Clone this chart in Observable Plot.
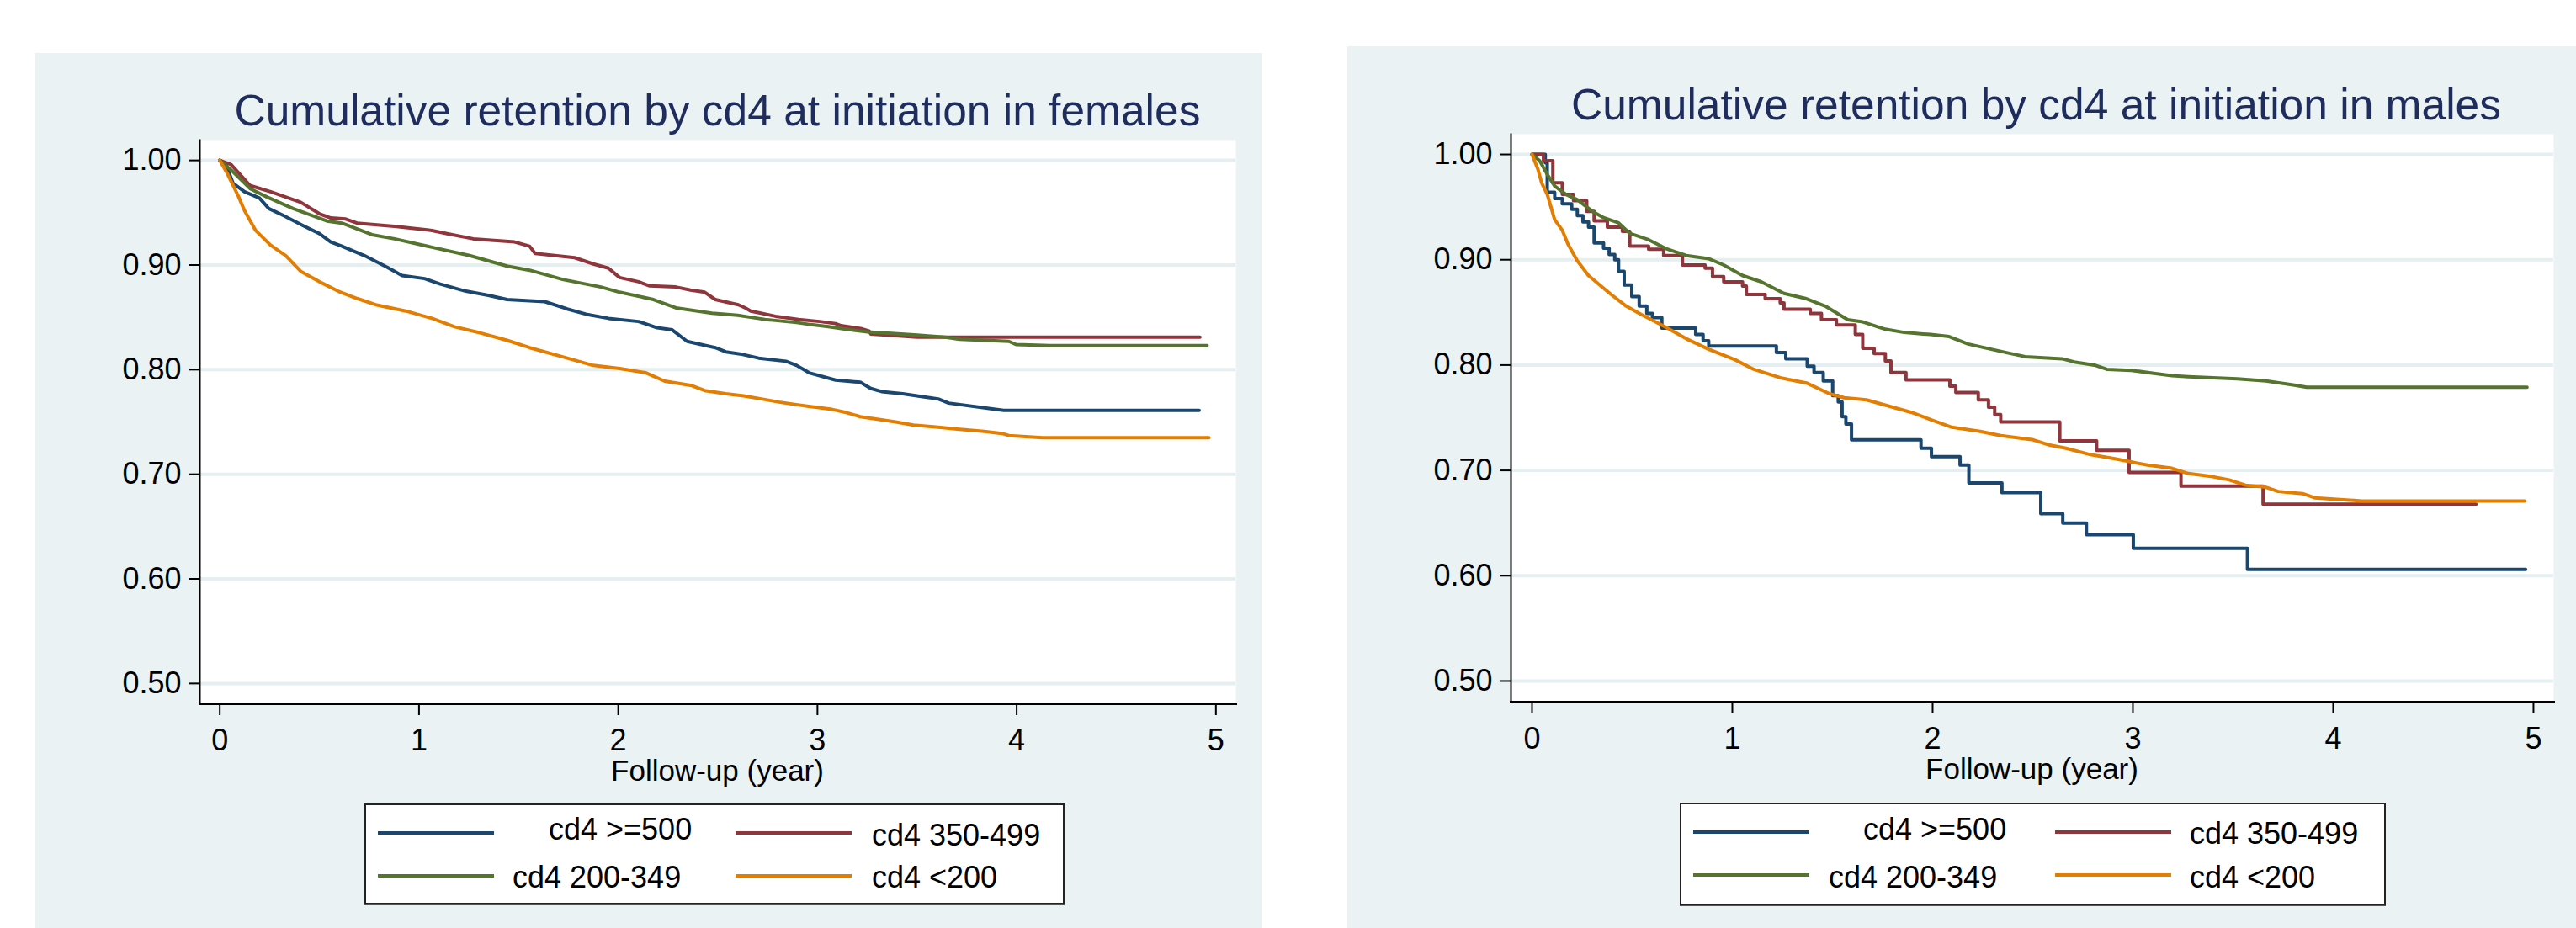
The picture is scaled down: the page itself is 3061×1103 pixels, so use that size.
<!DOCTYPE html>
<html><head><meta charset="utf-8">
<script src="https://cdn.jsdelivr.net/npm/d3@7"></script>
<script src="https://cdn.jsdelivr.net/npm/@observablehq/plot@0.6"></script>
<style>
body{margin:0;background:#fff;}
#root{position:relative;width:3061px;height:1103px;overflow:hidden;font-family:"Liberation Sans",Arial,sans-serif;}
.abs{position:absolute;white-space:nowrap;line-height:1;}
</style></head><body><div id="root"></div>
<script>
// ---------- data ----------
const groups = ["cd4 >=500", "cd4 350-499", "cd4 200-349", "cd4 <200"];
const xTicks = [0, 1, 2, 3, 4, 5];
const yTicks = [0.5, 0.6, 0.7, 0.8, 0.9, 1.0];
const titles = ["Cumulative retention by cd4 at initiation in females", "Cumulative retention by cd4 at initiation in males"];
const xLabel = "Follow-up (year)";

// females
const femT_500 = [0, 0.029, 0.067, 0.124, 0.199, 0.246, 0.312, 0.425, 0.500, 0.557, 0.613, 0.726, 0.839, 0.915, 1.028, 1.103, 1.235, 1.348, 1.442, 1.631, 1.744, 1.838, 1.951, 2.102, 2.195, 2.271, 2.346, 2.487, 2.540, 2.611, 2.705, 2.842, 2.896, 2.958, 3.091, 3.215, 3.268, 3.322, 3.428, 3.535, 3.606, 3.659, 3.854, 3.935, 4.916];
const femS_500 = [1.000, 0.997, 0.978, 0.970, 0.964, 0.954, 0.948, 0.937, 0.930, 0.922, 0.918, 0.909, 0.898, 0.890, 0.887, 0.882, 0.875, 0.871, 0.867, 0.865, 0.858, 0.853, 0.849, 0.846, 0.840, 0.838, 0.827, 0.821, 0.817, 0.815, 0.811, 0.808, 0.804, 0.797, 0.790, 0.788, 0.782, 0.779, 0.777, 0.774, 0.772, 0.768, 0.763, 0.761, 0.761];
const femT_350 = [0, 0.057, 0.152, 0.255, 0.406, 0.500, 0.557, 0.632, 0.689, 0.877, 1.065, 1.141, 1.273, 1.480, 1.555, 1.583, 1.781, 1.875, 1.951, 2.007, 2.102, 2.158, 2.289, 2.363, 2.434, 2.487, 2.603, 2.638, 2.665, 2.691, 2.789, 2.905, 3.011, 3.091, 3.118, 3.224, 3.259, 3.268, 3.500, 4.920];
const femS_350 = [1.000, 0.996, 0.976, 0.970, 0.960, 0.949, 0.945, 0.944, 0.940, 0.937, 0.933, 0.930, 0.925, 0.922, 0.918, 0.911, 0.907, 0.901, 0.897, 0.888, 0.884, 0.880, 0.879, 0.876, 0.874, 0.867, 0.862, 0.859, 0.856, 0.855, 0.851, 0.848, 0.846, 0.844, 0.842, 0.839, 0.837, 0.834, 0.831, 0.831];
const femT_200 = [0, 0.067, 0.152, 0.237, 0.368, 0.538, 0.613, 0.764, 0.877, 1.065, 1.254, 1.442, 1.555, 1.725, 1.913, 2.007, 2.177, 2.290, 2.363, 2.470, 2.600, 2.665, 2.736, 2.789, 2.896, 2.967, 3.055, 3.127, 3.251, 3.340, 3.500, 3.641, 3.713, 3.961, 3.997, 4.165, 4.956];
const femS_200 = [1.000, 0.989, 0.973, 0.965, 0.954, 0.942, 0.940, 0.929, 0.925, 0.917, 0.909, 0.899, 0.895, 0.886, 0.879, 0.874, 0.867, 0.859, 0.857, 0.854, 0.852, 0.850, 0.848, 0.847, 0.845, 0.843, 0.841, 0.839, 0.836, 0.835, 0.833, 0.831, 0.829, 0.827, 0.824, 0.823, 0.823];
const femT_lt200 = [0, 0.039, 0.095, 0.124, 0.180, 0.255, 0.331, 0.406, 0.500, 0.594, 0.689, 0.783, 0.934, 1.065, 1.178, 1.310, 1.442, 1.555, 1.725, 1.875, 2.007, 2.139, 2.233, 2.363, 2.434, 2.540, 2.629, 2.718, 2.807, 2.878, 2.949, 3.073, 3.144, 3.215, 3.286, 3.393, 3.482, 3.606, 3.713, 3.837, 3.926, 3.961, 4.130, 4.965];
const femS_lt200 = [1.000, 0.987, 0.965, 0.952, 0.933, 0.919, 0.909, 0.894, 0.884, 0.875, 0.868, 0.862, 0.856, 0.849, 0.841, 0.835, 0.828, 0.821, 0.812, 0.804, 0.801, 0.797, 0.789, 0.785, 0.780, 0.777, 0.775, 0.772, 0.769, 0.767, 0.765, 0.762, 0.759, 0.755, 0.753, 0.750, 0.747, 0.745, 0.743, 0.741, 0.739, 0.737, 0.735, 0.735];

// males
const malT_500 = [0, 0.066, 0.076, 0.113, 0.151, 0.198, 0.226, 0.254, 0.282, 0.310, 0.357, 0.385, 0.413, 0.432, 0.460, 0.498, 0.535, 0.573, 0.601, 0.648, 0.817, 0.854, 0.882, 1.220, 1.267, 1.374, 1.408, 1.454, 1.501, 1.529, 1.548, 1.567, 1.595, 1.942, 1.994, 2.137, 2.181, 2.346, 2.540, 2.650, 2.768, 3.002, 3.572, 4.961];
const malS_500 = [1.000, 0.992, 0.964, 0.958, 0.953, 0.948, 0.942, 0.936, 0.931, 0.916, 0.911, 0.905, 0.900, 0.889, 0.876, 0.865, 0.856, 0.849, 0.845, 0.835, 0.829, 0.823, 0.818, 0.812, 0.806, 0.799, 0.793, 0.785, 0.771, 0.765, 0.751, 0.744, 0.729, 0.721, 0.713, 0.705, 0.688, 0.679, 0.659, 0.650, 0.639, 0.626, 0.606, 0.606];
const malT_350 = [0, 0.057, 0.104, 0.151, 0.207, 0.273, 0.310, 0.376, 0.451, 0.488, 0.582, 0.657, 0.751, 0.864, 0.901, 0.957, 1.051, 1.070, 1.164, 1.239, 1.258, 1.389, 1.445, 1.520, 1.614, 1.651, 1.708, 1.764, 1.792, 1.867, 2.086, 2.116, 2.228, 2.279, 2.310, 2.340, 2.635, 2.819, 2.981, 3.240, 3.650, 4.713];
const malS_350 = [1.000, 0.994, 0.973, 0.962, 0.956, 0.946, 0.937, 0.931, 0.927, 0.913, 0.910, 0.904, 0.895, 0.892, 0.884, 0.879, 0.875, 0.867, 0.863, 0.859, 0.853, 0.849, 0.843, 0.838, 0.829, 0.816, 0.811, 0.804, 0.793, 0.786, 0.780, 0.774, 0.767, 0.760, 0.753, 0.746, 0.728, 0.719, 0.698, 0.685, 0.668, 0.668];
const malT_200 = [0, 0.038, 0.076, 0.113, 0.170, 0.226, 0.301, 0.357, 0.432, 0.488, 0.582, 0.676, 0.770, 0.882, 0.957, 1.051, 1.145, 1.258, 1.370, 1.464, 1.576, 1.651, 1.764, 1.858, 1.989, 2.083, 2.177, 2.270, 2.364, 2.462, 2.646, 2.707, 2.808, 2.870, 2.992, 3.113, 3.195, 3.277, 3.521, 3.664, 3.807, 3.868, 4.968];
const malS_200 = [1.000, 0.994, 0.981, 0.970, 0.962, 0.957, 0.946, 0.940, 0.935, 0.925, 0.919, 0.910, 0.904, 0.901, 0.895, 0.885, 0.879, 0.868, 0.863, 0.856, 0.843, 0.841, 0.834, 0.831, 0.829, 0.827, 0.820, 0.816, 0.812, 0.808, 0.806, 0.803, 0.800, 0.796, 0.795, 0.792, 0.790, 0.789, 0.787, 0.785, 0.781, 0.779, 0.779];
const malT_lt200 = [0, 0.029, 0.048, 0.076, 0.113, 0.151, 0.179, 0.226, 0.282, 0.338, 0.395, 0.470, 0.545, 0.657, 0.770, 0.882, 1.014, 1.107, 1.239, 1.370, 1.483, 1.558, 1.670, 1.801, 1.895, 1.994, 2.096, 2.238, 2.340, 2.503, 2.585, 2.666, 2.788, 2.910, 2.992, 3.073, 3.195, 3.277, 3.399, 3.481, 3.562, 3.664, 3.725, 3.847, 3.908, 4.143, 4.957];
const malS_lt200 = [1.000, 0.986, 0.973, 0.962, 0.938, 0.928, 0.915, 0.899, 0.885, 0.876, 0.867, 0.856, 0.848, 0.837, 0.825, 0.815, 0.805, 0.796, 0.788, 0.783, 0.773, 0.769, 0.767, 0.760, 0.755, 0.748, 0.741, 0.737, 0.733, 0.729, 0.724, 0.721, 0.715, 0.711, 0.708, 0.705, 0.702, 0.697, 0.694, 0.691, 0.686, 0.684, 0.680, 0.678, 0.674, 0.671, 0.671];

// ---------- style ----------
const colors = ["#1a476f", "#90353b", "#55752f", "#e37e00"];
const bgColor = "#eaf2f3";
const gridColor = "#e5eef0";
const titleColor = "#1e2d5e";
const FONT = "'Liberation Sans', Arial, Helvetica, sans-serif";

const root = document.getElementById("root");

function addText(txt, left, baseline, size, color, extra) {
  const d = document.createElement("div");
  d.className = "abs";
  d.textContent = txt;
  d.style.left = left + "px";
  d.style.top = (baseline - 0.8465 * size) + "px";
  d.style.fontSize = size + "px";
  d.style.color = color;
  if (extra) Object.assign(d.style, extra);
  root.appendChild(d);
  return d;
}

function panel(cfg) {
  const bgd = document.createElement("div");
  bgd.style.cssText = `position:absolute;left:${cfg.bg.left}px;top:${cfg.bg.top}px;width:${cfg.bg.width}px;height:${1103 - cfg.bg.top}px;background:${bgColor};`;
  root.appendChild(bgd);

  const s = cfg.svg;
  const marks = [
    Plot.frame({fill: "white", stroke: "none"}),
    Plot.ruleY(yTicks, {stroke: gridColor, strokeWidth: 4})
  ];
  cfg.series.forEach(([T, S], gi) => {
    const rows = T.map((t, i) => ({t, s: S[i], group: groups[gi]}));
    marks.push(Plot.line(rows, {
      x: "t", y: "s", stroke: colors[gi], strokeWidth: 4,
      curve: cfg.stepped[gi] ? "step-after" : "linear"
    }));
  });
  marks.push(
    Plot.axisY(yTicks, {tickSize: 12, tickPadding: 10, tickFormat: d3.format(".2f"), strokeWidth: 2, label: null}),
    Plot.axisX(xTicks, {tickSize: 14, tickPadding: 16, tickFormat: d => String(d), strokeWidth: 2, label: null}),
    Plot.frame({anchor: "left", stroke: "#000", strokeWidth: 2}),
    Plot.frame({anchor: "bottom", stroke: "#000", strokeWidth: 3})
  );
  const chart = Plot.plot({
    width: s.width, height: s.height,
    marginLeft: s.mL, marginRight: s.mR, marginTop: s.mT, marginBottom: s.mB,
    style: {background: "transparent", fontFamily: FONT, fontSize: "36px", color: "#000", overflow: "visible", maxWidth: "none"},
    x: {domain: cfg.xDomain},
    y: {domain: cfg.yDomain},
    marks
  });
  const wrap = document.createElement("div");
  wrap.style.cssText = `position:absolute;left:${s.left}px;top:${s.top}px;width:${s.width}px;height:${s.height}px;`;
  wrap.appendChild(chart);
  root.appendChild(wrap);

  const plotL = s.left + s.mL, plotW = s.width - s.mL - s.mR;
  addText(cfg.title, plotL + cfg.titleShift, cfg.titleBaseline, 51.5, titleColor, {width: plotW + "px", textAlign: "center"});
  addText(xLabel, plotL, cfg.xLabelBaseline, 35, "#000", {width: plotW + "px", textAlign: "center"});

  const L = cfg.legend;
  const box = document.createElement("div");
  box.style.cssText = `position:absolute;left:${L.left}px;top:${L.top}px;width:${L.width}px;height:${L.height}px;background:#fff;border:2px solid #222;box-sizing:border-box;box-shadow:0 1px 0 #555;`;
  root.appendChild(box);
  groups.forEach((g, i) => {
    const it = L.items[i];
    const sw = document.createElement("div");
    sw.style.cssText = `position:absolute;left:${L.left + it.sx}px;top:${L.top + it.sy - 2}px;width:${L.swW}px;height:4px;background:${colors[i]};`;
    root.appendChild(sw);
    addText(g, L.left + it.tx, L.top + it.tb, 36, "#000");
  });
}

panel({
  title: titles[0],
  series: [[femT_500, femS_500], [femT_350, femS_350], [femT_200, femS_200], [femT_lt200, femS_lt200]],
  stepped: [false, false, false, false],
  bg: {left: 41, top: 63, width: 1459},
  svg: {left: 41, top: 153, width: 1459, height: 797, mL: 196, mR: 32, mT: 13, mB: 114},
  xDomain: [-0.1, 5.1], yDomain: [0.4806, 1.0194],
  titleBaseline: 150, titleShift: 0, xLabelBaseline: 928,
  legend: {left: 433, top: 955, width: 832, height: 120, swW: 138,
    items: [{sx: 16, sy: 35, tx: 219, tb: 43}, {sx: 441, sy: 35, tx: 603, tb: 50},
            {sx: 16, sy: 86, tx: 176, tb: 100}, {sx: 441, sy: 86, tx: 603, tb: 100}]}
});

panel({
  title: titles[1],
  series: [[malT_500, malS_500], [malT_350, malS_350], [malT_200, malS_200], [malT_lt200, malS_lt200]],
  stepped: [true, true, false, false],
  bg: {left: 1601, top: 55, width: 1460},
  svg: {left: 1601, top: 146, width: 1460, height: 804, mL: 194, mR: 27, mT: 13, mB: 116},
  xDomain: [-0.105, 5.101], yDomain: [0.480, 1.0192],
  titleBaseline: 143, titleShift: 5, xLabelBaseline: 926,
  legend: {left: 1996, top: 954, width: 839, height: 122, swW: 138,
    items: [{sx: 16, sy: 35, tx: 218, tb: 44}, {sx: 446, sy: 35, tx: 606, tb: 49},
            {sx: 16, sy: 86, tx: 177, tb: 101}, {sx: 446, sy: 86, tx: 606, tb: 101}]}
});
</script>
</body></html>
